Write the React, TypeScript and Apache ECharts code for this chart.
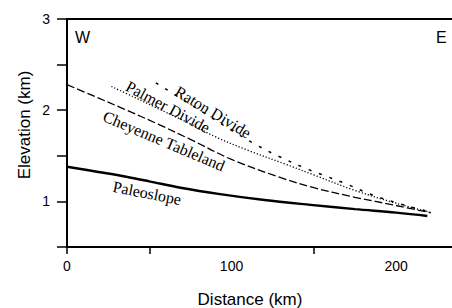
import React, { useEffect, useRef } from "react";
import * as echarts from "echarts";

// Distance (km), elevation (km) pairs
const paleoslope: [number, number][] = [
  [0, 1.38], [20, 1.32], [36, 1.27], [50, 1.22], [69, 1.15], [93, 1.08],
  [120, 1.015], [148, 0.962], [175, 0.915], [200, 0.877], [219, 0.84],
];
const cheyenne: [number, number][] = [
  [0, 2.28], [15, 2.165], [35, 2.01], [55, 1.85], [75, 1.68], [100, 1.46],
  [130, 1.26], [150, 1.15], [175, 1.045], [200, 0.955], [221, 0.875],
];
const palmer: [number, number][] = [
  [27, 2.26], [40, 2.15], [55, 2.02], [75, 1.85], [90, 1.71], [110, 1.56],
  [134, 1.4], [150, 1.29], [175, 1.12], [200, 0.98], [221, 0.88],
];
const raton: [number, number][] = [
  [54, 2.3], [70, 2.12], [85, 1.95], [100, 1.78], [115, 1.62], [128, 1.5],
  [146, 1.355], [154, 1.3], [170, 1.19], [185, 1.075], [205, 0.96], [222, 0.88],
];
const xLabelValues = [0, 100, 200];
const xTickValues = [0, 50, 150];
const yLabelValues = [1, 2, 3];

export default function App() {
  const ref = useRef<HTMLDivElement>(null);
  useEffect(() => {
    if (!ref.current) return;
    const chart = echarts.init(ref.current, undefined, { renderer: "svg" });
    const sans = "Liberation Sans, Arial, sans-serif";
    const serif = "Liberation Serif, Times New Roman, serif";
    const line = (data: [number, number][], type: any, width: number) => ({
      type: "line",
      data,
      showSymbol: false,
      smooth: 0.35,
      lineStyle: { color: "#000", width, type },
      silent: true,
    });
    const label = (text: string, x: number, y: number, deg: number) => ({
      type: "text",
      x,
      y,
      rotation: (deg * Math.PI) / 180,
      style: {
        text,
        fill: "#000",
        font: `16px ${serif}`,
        textAlign: "center",
        textVerticalAlign: "middle",
      },
    });
    chart.setOption({
      animation: false,
      grid: { left: 67, right: 0, top: 19, bottom: 61 },
      xAxis: [
        {
          type: "value",
          min: 0,
          max: 234,
          position: "bottom",
          splitLine: { show: false },
          axisLine: { onZero: false, lineStyle: { color: "#000", width: 2 } },
          axisTick: {
            customValues: xTickValues,
            length: 7,
            lineStyle: { color: "#000", width: 1.5 },
          },
          axisLabel: {
            customValues: xLabelValues,
            margin: 12,
            color: "#000",
            fontSize: 14,
            fontFamily: sans,
          },
        },
        {
          type: "value",
          min: 0,
          max: 234,
          position: "top",
          splitLine: { show: false },
          axisLine: { onZero: false, lineStyle: { color: "#000", width: 2 } },
          axisTick: { show: false },
          axisLabel: { show: false },
        },
      ],
      yAxis: {
        type: "value",
        min: 0.5,
        max: 3,
        interval: 0.5,
        splitLine: { show: false },
        axisLine: { show: true, onZero: false, lineStyle: { color: "#000", width: 2 } },
        axisTick: { length: 10, lineStyle: { color: "#000", width: 1.5 } },
        axisLabel: {
          margin: 17,
          color: "#000",
          fontSize: 14,
          fontFamily: sans,
          formatter: (v: number) => (yLabelValues.includes(v) ? String(v) : ""),
        },
      },
      series: [
        line(paleoslope, "solid", 2.4),
        line(cheyenne, [8, 3], 1.3),
        line(palmer, [1.2, 2], 1.3),
        line(raton, [3, 8], 1.5),
      ],
      graphic: [
        {
          type: "text",
          x: 250,
          y: 299,
          style: {
            text: "Distance (km)",
            fill: "#000",
            font: `17px ${sans}`,
            textAlign: "center",
            textVerticalAlign: "middle",
          },
        },
        {
          type: "text",
          x: 24,
          y: 125,
          rotation: Math.PI / 2,
          style: {
            text: "Elevation (km)",
            fill: "#000",
            font: `17px ${sans}`,
            textAlign: "center",
            textVerticalAlign: "middle",
          },
        },
        {
          type: "text",
          x: 75,
          y: 29,
          style: { text: "W", fill: "#000", font: `16px ${sans}` },
        },
        {
          type: "text",
          x: 436,
          y: 29,
          style: { text: "E", fill: "#000", font: `16px ${sans}` },
        },
        label("Paleoslope", 147, 193, -11),
        label("Cheyenne Tableland", 164, 141, -23),
        label("Palmer Divide", 168, 107, -28),
        label("Raton Divide", 213, 112, -31),
      ],
    });
    return () => chart.dispose();
  }, []);
  return (
    <div
      ref={ref}
      style={{ position: "fixed", left: 0, top: 0, width: 452, height: 308, background: "#fff" }}
    />
  );
}
